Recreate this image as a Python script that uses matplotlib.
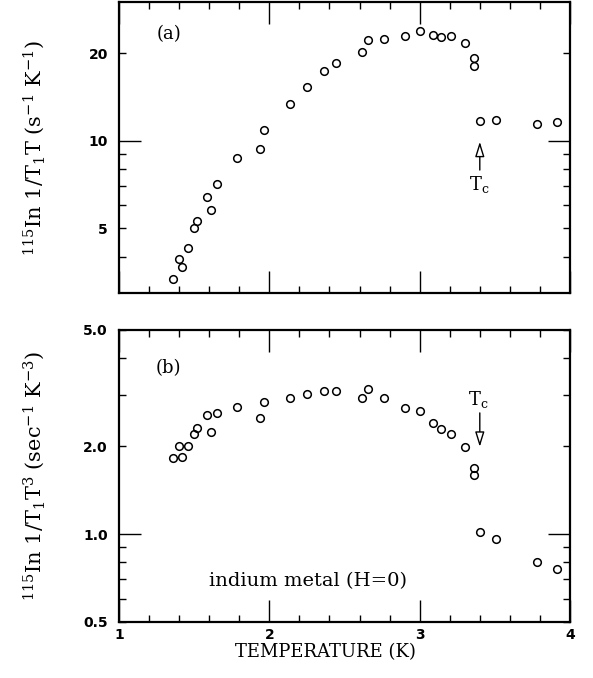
import numpy as np
import matplotlib.pyplot as plt

plt.rcParams['font.family'] = 'DejaVu Serif'
plt.rcParams['mathtext.fontset'] = 'dejavuserif'

# temperatures (K), same set for both panels
temp = [1.357, 1.399, 1.419, 1.459, 1.501, 1.517, 1.583, 1.610, 1.652, 1.785,
        1.940, 1.963, 2.140, 2.251, 2.362, 2.446, 2.615, 2.655, 2.763, 2.905,
        3.005, 3.089, 3.142, 3.207, 3.302, 3.364, 3.364, 3.404, 3.508, 3.781,
        3.912]
# (a) 1/T1T  (s^-1 K^-1)
rate_t = [3.34, 3.92, 3.69, 4.27, 5.00, 5.29, 6.41, 5.79, 7.09, 8.73,
          9.40, 10.92, 13.39, 15.35, 17.34, 18.55, 20.15, 22.15, 22.38, 22.97,
          23.90, 23.15, 22.75, 22.85, 21.69, 19.26, 18.04, 11.73, 11.82, 11.45,
          11.58]
# (b) 1/T1T^3  (sec^-1 K^-3)
rate_t3 = [1.82, 2.01, 1.84, 2.01, 2.20, 2.31, 2.56, 2.24, 2.60, 2.73,
           2.50, 2.83, 2.92, 3.02, 3.09, 3.09, 2.93, 3.14, 2.92, 2.70,
           2.64, 2.40, 2.29, 2.20, 1.98, 1.69, 1.59, 1.02, 0.962, 0.80,
           0.76]

xmaj = [1, 2, 3, 4]
xmin = [1.2, 1.4, 1.6, 1.8, 2.2, 2.4, 2.6, 2.8, 3.2, 3.4, 3.6, 3.8]

fig = plt.figure(figsize=(5.93, 6.78), dpi=100)
ax1 = fig.add_axes([0.2007, 0.5678, 0.7605, 0.4292])
ax2 = fig.add_axes([0.2007, 0.0826, 0.7605, 0.4307])

for ax, y in [(ax1, rate_t), (ax2, rate_t3)]:
    ax.plot(temp, y, 'o', mfc='none', mec='black', ms=5.5, mew=1.1)
    ax.set_yscale('log')
    ax.set_xlim(1, 4)
    ax.set_xticks(xmaj)
    ax.set_xticks(xmin, minor=True)
    ax.tick_params(which='both', direction='in', top=True, right=True,
                   width=1.0, labelsize=10)
    ax.tick_params(which='major', length=16, pad=8)
    ax.tick_params(which='minor', length=5, pad=8)
    ax.tick_params(axis='x', which='both', pad=4)
    for s in ax.spines.values():
        s.set_linewidth(1.6)

ax1.set_xticklabels([])
ax2.set_xticklabels(['1', '2', '3', '4'])

# panel (a) y axis
ax1.set_ylim(3, 30)
ax1.set_yticks([10], labels=['10'])
yminor_a = [4, 5, 6, 7, 8, 9, 20]
ax1.set_yticks(yminor_a, labels=['', '5', '', '', '', '', '20'], minor=True)
# panel (b) y axis
ax2.set_ylim(0.5, 5)
ax2.set_yticks([1.0], labels=['1.0'])
yminor_b = [0.5, 0.6, 0.7, 0.8, 0.9, 2, 3, 4, 5]
ax2.set_yticks(yminor_b, labels=['0.5', '', '', '', '', '2.0', '', '', '5.0'],
               minor=True)
for ax in (ax1, ax2):
    for lab in ax.get_yticklabels(which='both') + ax.get_xticklabels(which='both'):
        lab.set_fontweight('bold')
        lab.set_fontfamily('DejaVu Sans')

ax1.set_ylabel(r'$^{115}$In 1/T$_1$T (s$^{-1}$ K$^{-1}$)', fontsize=15)
ax2.set_ylabel(r'$^{115}$In 1/T$_1$T$^3$ (sec$^{-1}$ K$^{-3}$)', fontsize=15)
ax1.yaxis.set_label_coords(-0.16, 0.5)
ax2.yaxis.set_label_coords(-0.16, 0.5)
fig.text(325 / 593, 1 - 652 / 678, 'TEMPERATURE (K)', ha='center', va='center',
         fontsize=13)

ax1.text(0.11, 0.89, '(a)', transform=ax1.transAxes, fontsize=13,
         ha='center', va='center')
ax2.text(0.11, 0.87, '(b)', transform=ax2.transAxes, fontsize=13,
         ha='center', va='center')
ax2.text(0.42, 0.14, 'indium metal (H=0)', transform=ax2.transAxes,
         fontsize=14, ha='center', va='center')

arrow = dict(arrowstyle='-|>,head_length=0.9,head_width=0.28', fc='white',
             ec='black', lw=1.0, shrinkA=0, shrinkB=0)
ax1.annotate('', xy=(3.40, 9.93), xytext=(3.40, 7.94), arrowprops=arrow)
ax1.text(3.40, 7.06, r'T$_\mathrm{c}$', ha='center', va='center', fontsize=13)
ax2.annotate('', xy=(3.40, 1.99), xytext=(3.40, 2.60), arrowprops=arrow)
ax2.text(3.39, 2.88, r'T$_\mathrm{c}$', ha='center', va='center', fontsize=13)

fig.savefig('out.png', dpi=100)
